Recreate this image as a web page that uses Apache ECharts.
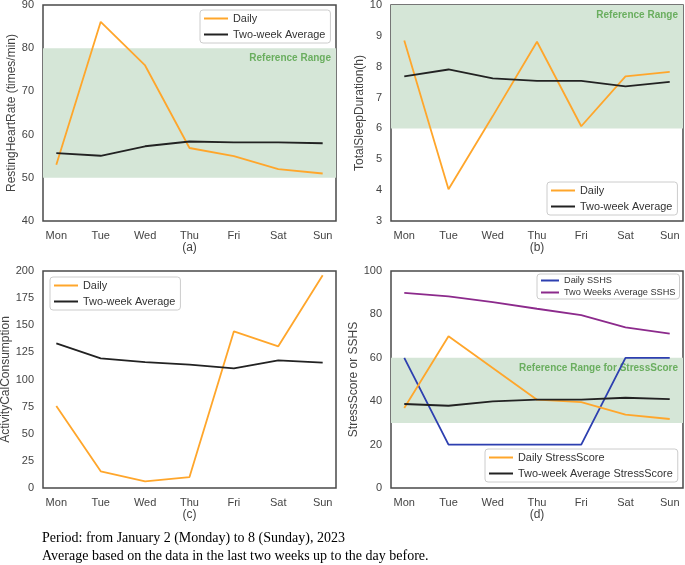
<!DOCTYPE html>
<html>
<head>
<meta charset="utf-8">
<script src="https://cdn.jsdelivr.net/npm/echarts@6/dist/echarts.min.js"></script>
<style>
html,body{margin:0;padding:0;background:#fff;}
#chart{width:685px;height:565px;}
</style>
</head>
<body>
<div id="chart"></div>
<script>
const days = ['Mon', 'Tue', 'Wed', 'Thu', 'Fri', 'Sat', 'Sun'];
const hrDaily = [53.0, 86.1, 76.0, 56.9, 55.0, 52.0, 51.0];
const hrAvg = [55.7, 55.1, 57.3, 58.4, 58.2, 58.2, 58.0];
const sleepDaily = [8.85, 4.03, 6.4, 8.81, 6.07, 7.69, 7.83];
const sleepAvg = [7.69, 7.91, 7.62, 7.54, 7.54, 7.36, 7.51];
const calDaily = [75.6, 15.4, 6.1, 10.1, 144.4, 130.6, 196.0];
const calAvg = [133.3, 119.5, 116.1, 113.7, 110.3, 117.7, 115.5];
const sshsDaily = [60, 20, 20, 20, 20, 60, 60];
const sshsAvg = [89.9, 88.3, 85.7, 82.6, 79.7, 74.0, 71.1];
const stressDaily = [36.9, 69.9, 55.3, 40.7, 39.6, 33.8, 31.8];
const stressAvg = [38.7, 37.9, 39.9, 40.7, 40.7, 41.6, 41.0];
const hrRange = [50, 80];
const sleepRange = [6, 10];
const stressRange = [30, 60];
const panelLabels = ['(a)', '(b)', '(c)', '(d)'];
const yNames = ['RestingHeartRate (times/min)', 'TotalSleepDuration(h)', 'ActivityCalConsumption', 'StressScore or SSHS'];
const yMin = [40, 3, 0, 0];
const yMax = [90, 10, 200, 100];
const yInterval = [10, 1, 25, 20];
const captionLines = ['Period: from January 2 (Monday) to 8 (Sunday), 2023', 'Average based on the data in the last two weeks up to the day before.'];

const FONT = '"Liberation Sans", Arial, sans-serif';
const ORANGE = '#FFA62B';
const BLACK = '#222222';
const BLUE = '#2D3FB0';
const PURPLE = '#8C2A8C';
const BAND = '#D5E6D7';
const BANDTXT = '#6AAE5F';

const grids = [
  {left: 43, top: 5, width: 293, height: 216},
  {left: 391, top: 5, width: 292, height: 216},
  {left: 43, top: 271, width: 293, height: 217},
  {left: 391, top: 271, width: 292, height: 217}
];
const nameGaps = [24, 20, 31, 31];

function pts(arr) { return arr.map((v, i) => [i, v]); }

function legendBox(left, top, names, small) {
  return {
    left: left, top: top, orient: 'vertical', data: names,
    padding: small ? [2, 4, 2, 3] : [3, 5, 3, 3],
    itemGap: small ? 3 : 5, itemWidth: small ? 18 : 24, itemHeight: small ? 10 : 11,
    itemStyle: {opacity: 0},
    textStyle: {fontSize: small ? 9.2 : 10.9, color: '#333', fontFamily: FONT},
    backgroundColor: '#fff', borderColor: '#ccc', borderWidth: 1, borderRadius: 3
  };
}

const option = {
  animation: false,
  backgroundColor: '#fff',
  grid: grids.map(g => Object.assign({show: true, borderColor: '#4a4a4a', borderWidth: 1.5,
    backgroundColor: 'transparent', outerBoundsMode: 'none', containLabel: false}, g)),
  xAxis: grids.map((g, k) => ({
    type: 'value', gridIndex: k, min: -0.3, max: 6.3,
    axisLine: {show: false}, axisTick: {show: false}, splitLine: {show: false},
    axisLabel: {
      customValues: [0, 1, 2, 3, 4, 5, 6],
      formatter: v => days[Math.round(v)] || '',
      color: '#444', fontSize: 11, fontFamily: FONT, margin: 9
    },
    name: panelLabels[k], nameLocation: 'middle', nameGap: 21,
    nameTextStyle: {color: '#444', fontSize: 12, fontFamily: FONT}
  })),
  yAxis: grids.map((g, k) => ({
    type: 'value', gridIndex: k, min: yMin[k], max: yMax[k], interval: yInterval[k],
    axisLine: {show: false}, axisTick: {show: false}, splitLine: {show: false},
    axisLabel: {color: '#444', fontSize: 11, fontFamily: FONT, margin: 9},
    name: yNames[k], nameLocation: 'middle', nameGap: nameGaps[k],
    nameTextStyle: {color: '#444', fontSize: 12, fontFamily: FONT}
  })),
  legend: [
    legendBox(200, 10, ['Daily', 'Two-week Average']),
    legendBox(547, 182, ['Daily', 'Two-week Average']),
    legendBox(50, 277, ['Daily', 'Two-week Average']),
    legendBox(537, 274, ['Daily SSHS', 'Two Weeks Average SSHS'], true),
    legendBox(485, 449, ['Daily StressScore', 'Two-week Average StressScore'])
  ],
  series: [],
  graphic: captionLines.map((t, i) => ({
    type: 'text', left: 42, top: 531 + i * 18,
    style: {text: t, fill: '#000', font: '14px "Liberation Serif", "Times New Roman", serif'}
  }))
};

function band(range, label) {
  return {
    silent: true,
    itemStyle: {color: BAND, opacity: 1},
    label: {show: true, position: 'insideTopRight', distance: 5, color: BANDTXT,
            fontWeight: 'bold', fontSize: 10, fontFamily: FONT, formatter: label},
    data: [[{yAxis: range[0]}, {yAxis: range[1]}]]
  };
}

function line(name, data, color, k, extra) {
  return Object.assign({
    type: 'line', name: name, data: pts(data), xAxisIndex: k, yAxisIndex: k,
    symbol: 'none', lineStyle: {color: color, width: 1.8}, itemStyle: {color: color}, z: 3
  }, extra || {});
}

option.series.push(line('Daily', hrDaily, ORANGE, 0, {markArea: band(hrRange, 'Reference Range')}));
option.series.push(line('Two-week Average', hrAvg, BLACK, 0));
option.series.push(line('Daily', sleepDaily, ORANGE, 1, {markArea: band(sleepRange, 'Reference Range')}));
option.series.push(line('Two-week Average', sleepAvg, BLACK, 1));
option.series.push(line('Daily', calDaily, ORANGE, 2));
option.series.push(line('Two-week Average', calAvg, BLACK, 2));
option.series.push(line('Daily SSHS', sshsDaily, BLUE, 3, {markArea: band(stressRange, 'Reference Range for StressScore')}));
option.series.push(line('Two Weeks Average SSHS', sshsAvg, PURPLE, 3));
option.series.push(line('Daily StressScore', stressDaily, ORANGE, 3));
option.series.push(line('Two-week Average StressScore', stressAvg, BLACK, 3));

const chart = echarts.init(document.getElementById('chart'), null, {renderer: 'canvas'});
chart.setOption(option);
</script>
</body>
</html>
